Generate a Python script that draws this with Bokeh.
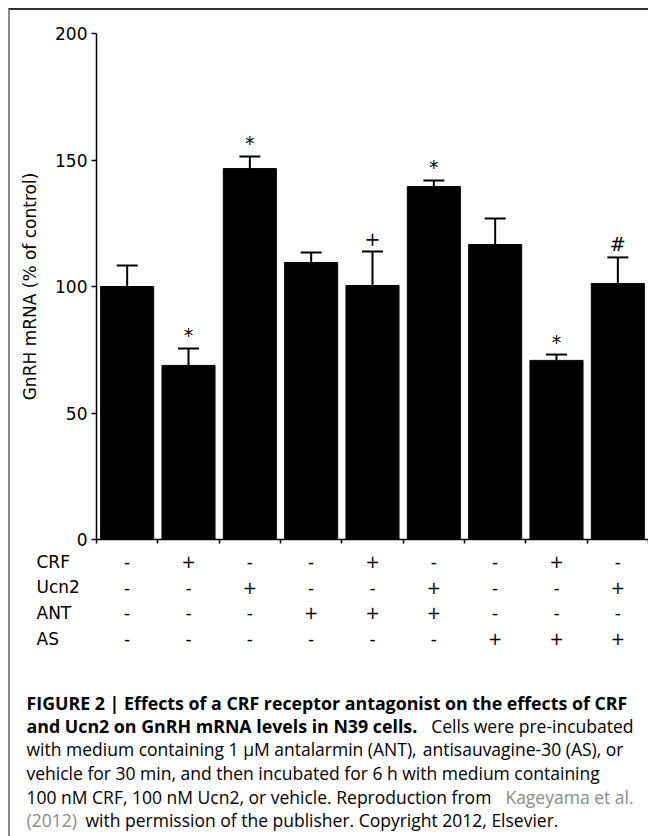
from bokeh.plotting import figure
from bokeh.layouts import column
from bokeh.models import Range1d, FixedTicker, ColumnDataSource, Whisker, TeeHead
from bokeh.embed import file_html
from bokeh.resources import INLINE
from bokeh.core.properties import value

# ---- data ----
conditions = ["1", "2", "3", "4", "5", "6", "7", "8", "9"]
means = [100.0, 68.8, 146.6, 109.5, 100.4, 139.5, 116.6, 70.8, 101.2]
sems = [8.3, 6.7, 4.8, 3.9, 13.4, 2.4, 10.3, 2.3, 10.3]
marks = ["", "*", "*", "", "+", "*", "", "*", "#"]
crf = ["-", "+", "-", "-", "+", "-", "-", "+", "-"]
ucn2 = ["-", "-", "+", "-", "-", "+", "-", "-", "+"]
ant = ["-", "-", "-", "+", "+", "+", "-", "-", "-"]
as_ = ["-", "-", "-", "-", "-", "-", "+", "+", "+"]
row_labels = ["CRF", "Ucn2", "ANT", "AS"]
y_ticks = [0, 50, 100, 150, 200]
y_label = "GnRH mRNA (% of control)"

# ---- layout ----
W = 638
LEFT = 86            # frame left border of the chart
CHART_H = 541
TABLE_H = 101
CAP_H = 184
TICK_FONT = "DejaVu Sans"
CAP_FONT = "Open Sans"
n = len(conditions)
cat_w = (W - LEFT) / n

xs = [i + 0.5 for i in range(n)]


def clean(fig):
    fig.outline_line_color = None
    fig.xgrid.grid_line_color = None
    fig.ygrid.grid_line_color = None
    fig.background_fill_color = "white"
    fig.border_fill_color = "white"


# ================= chart =================
p = figure(width=W, height=CHART_H, x_range=Range1d(0, n), y_range=Range1d(0, 200),
           output_backend="svg", toolbar_location=None, frame_align=False,
           min_border_left=LEFT, min_border_top=23, min_border_bottom=12, min_border_right=0)
clean(p)

src = ColumnDataSource(dict(x=xs, top=means, hi=[m + s for m, s in zip(means, sems)], lo=means))
p.vbar(x="x", top="top", width=0.865, bottom=0, source=src,
       fill_color="black", line_color="black", line_width=1)

p.add_layout(Whisker(base="x", upper="hi", lower="lo", source=src, dimension="height",
                     line_color="black", line_width=2,
                     upper_head=TeeHead(size=21, line_color="black", line_width=2),
                     lower_head=None))

mk = [(x, m + s, t) for x, m, s, t in zip(xs, means, sems, marks) if t]
msrc = ColumnDataSource(dict(x=[a[0] for a in mk], y=[a[1] for a in mk], t=[a[2] for a in mk]))
p.text(x="x", y="y", text="t", source=msrc, text_align="center", text_baseline="middle",
       y_offset=-13, text_font=value(TICK_FONT), text_font_size="19px", text_color="black")

ya = p.yaxis[0]
ya.ticker = FixedTicker(ticks=y_ticks)
ya.axis_label = y_label
ya.axis_label_text_font = TICK_FONT
ya.axis_label_text_font_size = "17px"
ya.axis_label_text_font_style = "normal"
ya.axis_label_text_color = "black"
ya.axis_label_standoff = 12
ya.major_label_text_font = TICK_FONT
ya.major_label_text_font_size = "17px"
ya.major_label_text_color = "black"
ya.major_label_standoff = 4
ya.axis_line_width = 1.5
ya.axis_line_color = "black"
ya.major_tick_line_width = 1.5
ya.major_tick_line_color = "black"
ya.major_tick_out = 5
ya.major_tick_in = 0
ya.minor_tick_line_color = None

xa = p.xaxis[0]
xa.ticker = FixedTicker(ticks=list(range(n + 1)))
xa.major_label_overrides = {i: "" for i in range(n + 1)}
xa.axis_line_width = 1.5
xa.axis_line_color = "black"
xa.major_tick_line_width = 1.5
xa.major_tick_line_color = "black"
xa.major_tick_out = 4
xa.major_tick_in = 0
xa.minor_tick_line_color = None

# ================= treatment table =================
# same horizontal scale as the chart: frame starts LEFT px before x = 0
row_vals = list(range(len(row_labels) - 1, -1, -1))   # CRF on top
t = figure(width=W, height=TABLE_H, x_range=Range1d(-LEFT / cat_w, n),
           y_range=Range1d(-0.54, 3.39),
           output_backend="svg", toolbar_location=None, frame_align=False,
           x_axis_location=None, y_axis_location=None,
           min_border=0, min_border_left=0, min_border_right=0, min_border_top=0,
           min_border_bottom=0)
clean(t)

rows = [crf, ucn2, ant, as_]
tx, ty, tt = [], [], []
for r, vals in enumerate(rows):
    for x, v in zip(xs, vals):
        tx.append(x)
        ty.append(row_vals[r])
        tt.append(v)
tsrc = ColumnDataSource(dict(x=tx, y=ty, t=tt))
t.text(x="x", y="y", text="t", source=tsrc, text_align="center", text_baseline="middle",
       text_font=value(TICK_FONT), text_font_size="17px", text_color="black")

LABEL_X = -60 / cat_w   # row labels start 60 px left of the y axis
rsrc = ColumnDataSource(dict(x=[LABEL_X] * len(row_labels), y=row_vals, t=row_labels))
t.text(x="x", y="y", text="t", source=rsrc, text_align="left", text_baseline="middle",
       text_font=value(TICK_FONT), text_font_size="17px", text_color="black")

# ================= caption (pixel coordinates, y downward) =================
c = figure(width=W, height=CAP_H, x_range=Range1d(0, W), y_range=Range1d(CAP_H, 0),
           output_backend="svg", toolbar_location=None, frame_align=False,
           x_axis_location=None, y_axis_location=None,
           min_border=0, min_border_left=0, min_border_right=0, min_border_top=0,
           min_border_bottom=0)
clean(c)

BASE = [50, 73, 96, 120, 144, 167]
CL = 16
CR = 623
GRAY = "#8a8a8a"
caption = [
    ("bold", "black", "left", CL, 0, "FIGURE 2 | Effects of a CRF receptor antagonist on the effects of CRF"),
    ("bold", "black", "left", CL, 1, "and Ucn2 on GnRH mRNA levels in N39 cells."),
    ("normal", "black", "right", CR, 1, "Cells were pre-incubated"),
    ("normal", "black", "left", CL, 2, "with medium containing 1 \u03bcM antalarmin (ANT),"),
    ("normal", "black", "right", CR - 10, 2, "antisauvagine-30 (AS), or"),
    ("normal", "black", "left", CL, 3, "vehicle for 30 min, and then incubated for 6 h with medium containing"),
    ("normal", "black", "left", CL, 4, "100 nM CRF, 100 nM Ucn2, or vehicle. Reproduction from"),
    ("normal", GRAY, "right", CR, 4, "Kageyama et al."),
    ("normal", GRAY, "left", CL, 5, "(2012)"),
    ("normal", "black", "left", 75, 5, "with permission of the publisher. Copyright 2012, Elsevier."),
]
for style, color, align, xpos, line, txt in caption:
    c.text(x=[xpos], y=[BASE[line]], text=[txt], text_font=value(CAP_FONT),
           text_font_size="17.8px" if style == "bold" else "17.5px",
           text_font_style=style, text_color=color,
           text_align=align, text_baseline="alphabetic")

layout = column(p, t, c, spacing=0, margin=(8, 0, 0, 8),
                styles={"border-top": "2px solid #303030", "border-left": "2px solid #8c8c8c"})

open("out.html", "w").write(file_html(layout, INLINE))
